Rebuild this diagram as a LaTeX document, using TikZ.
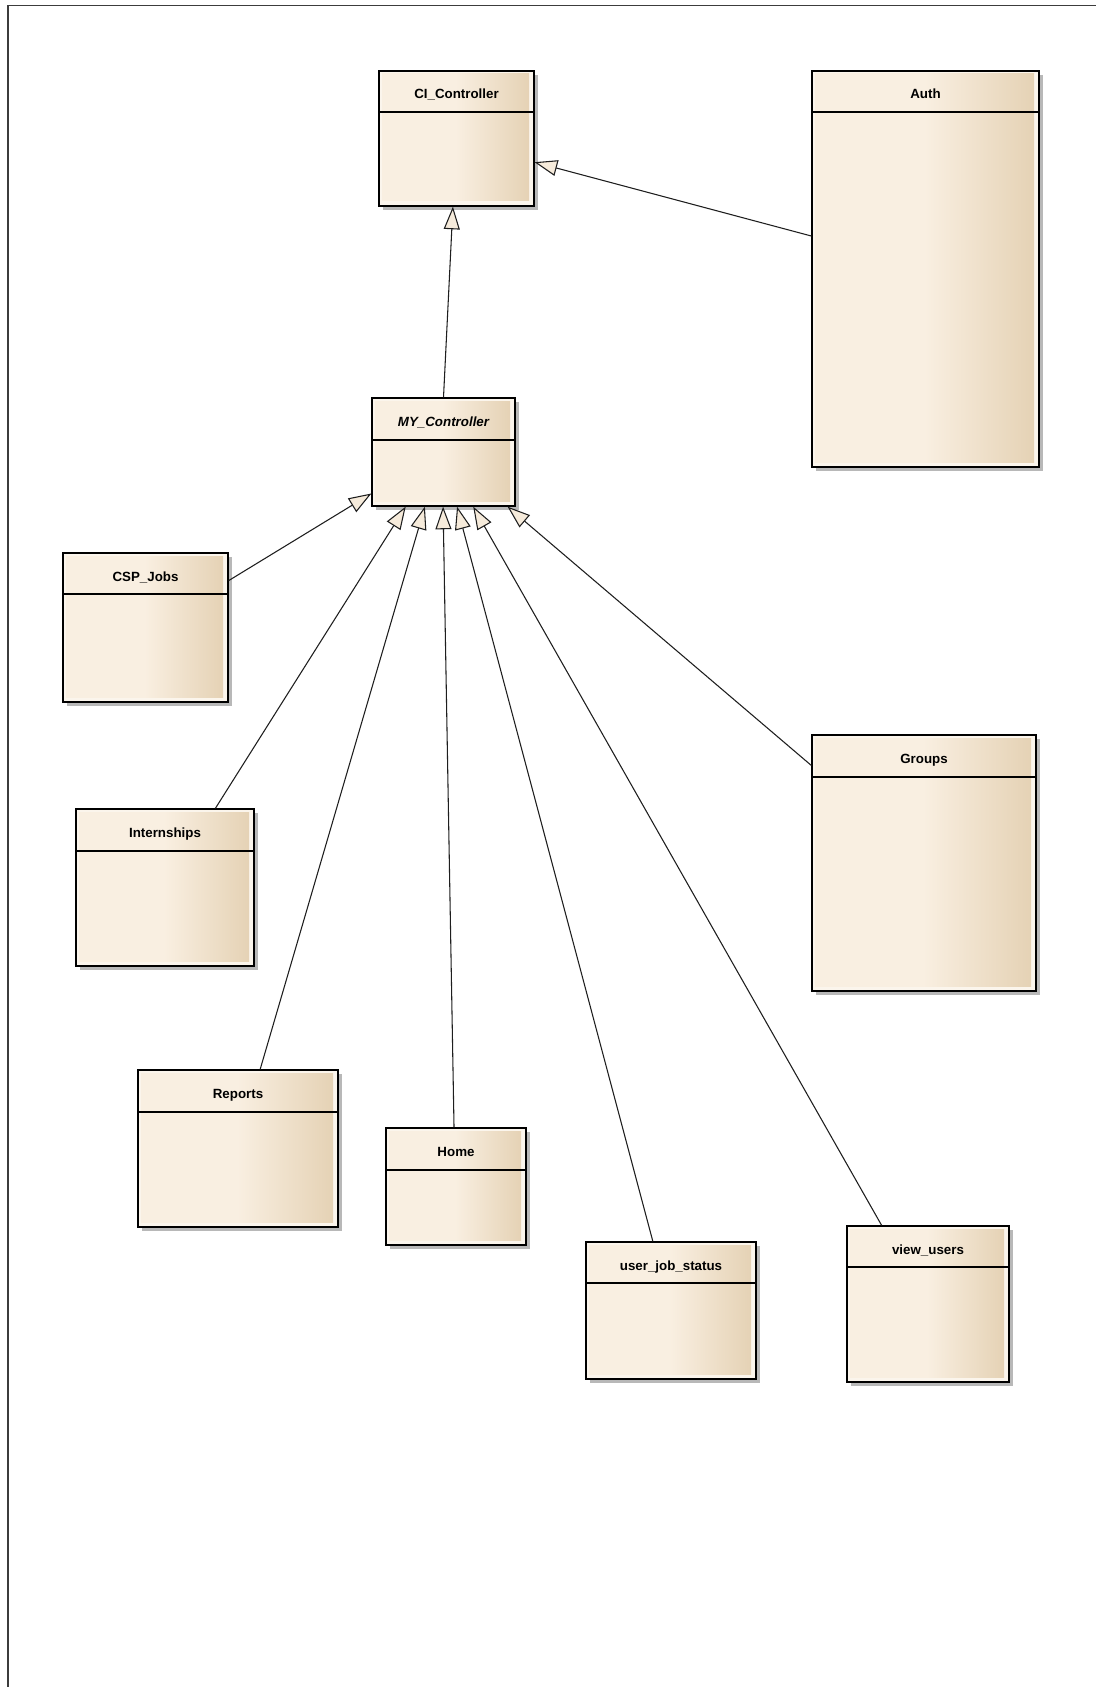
\documentclass[tikz,border=0pt]{standalone}
\usepackage{fontspec}
\setmainfont{Liberation Sans}
\usetikzlibrary{fit,calc,arrows.meta}
\definecolor{umlA}{HTML}{F9EFE1}
\definecolor{umlB}{HTML}{E5D2B5}
\definecolor{umlOuter}{HTML}{FBF5EC}
\definecolor{umlShadow}{HTML}{B8B8B8}
\definecolor{lineC}{HTML}{1E1E1E}
\definecolor{frameC}{HTML}{3C3C3C}
\definecolor{tipFill}{HTML}{F6EBDB}
\pgfdeclarehorizontalshading{umlshade}{100bp}{color(0bp)=(umlA); color(25bp)=(umlA); color(50bp)=(umlA); color(75bp)=(umlB); color(100bp)=(umlB)}
\tikzset{
  boxborder/.style={draw=black, line width=0.9pt, inner sep=0pt},
  titletext/.style={font=\bfseries\fontsize{10pt}{11pt}\selectfont, inner sep=0pt, anchor=base},
  headline/.style={draw=black, line width=0.85pt},
  genarrow/.style={draw=lineC, line width=0.8pt, -{Triangle[length=17pt,width=12pt,fill=tipFill]}},
  shadowfill/.style={fill=umlShadow},
}
% #1 name, #2 x1, #3 y1, #4 x2, #5 y2, #6 header line y, #7 title
\newcommand{\umlclass}[7]{%
  \fill[shadowfill] (#2+4,#3+4) rectangle (#4+4,#5+4);
  \fill[umlOuter] (#2,#3) rectangle (#4,#5);
  \shade[shading=umlshade] (#2+3,#3+3) rectangle (#4-5,#5-5);
  \node[boxborder, fit={(#2,#3) (#4,#5)}] (#1) {};
  \draw[headline] (#2,#6) -- (#4,#6);
  \node[titletext] (#1title) at ({(#2+#4)/2}, #3+28) {#7};
}
\begin{document}
\begin{tikzpicture}[x=0.75pt,y=-0.75pt]
\useasboundingbox (0,0) rectangle (1096,1687);
\fill[white] (0,0) rectangle (1096,1687);
\draw[frameC, line width=1.1pt] (8,1687) -- (8,5.5) -- (1096,5.5);

\umlclass{ci}{379}{71}{534}{206}{112}{CI\_Controller}
\umlclass{auth}{812}{71}{1039}{467}{112}{Auth}
\umlclass{my}{372}{398}{515}{506}{440}{\itshape MY\_Controller}
\umlclass{csp}{63}{553}{228}{702}{594}{CSP\_Jobs}
\umlclass{int}{76}{809}{254}{966}{851}{Internships}
\umlclass{grp}{812}{735}{1036}{991}{777}{Groups}
\umlclass{rep}{138}{1070}{338}{1227}{1112}{Reports}
\umlclass{home}{386}{1128}{526}{1245}{1170}{Home}
\umlclass{ujs}{586}{1242}{756}{1379}{1283}{user\_job\_status}
\umlclass{vu}{847}{1226}{1009}{1382}{1267}{view\_users}

\draw[genarrow] (my.north) -- ($(ci.south west)!0.477!(ci.south east)$);
\draw[genarrow] ($(auth.north west)!0.417!(auth.south west)$) -- ($(ci.north east)!0.674!(ci.south east)$);
\draw[genarrow] ($(csp.north east)!0.188!(csp.south east)$) -- ($(my.north west)!0.88!(my.south west)$);
\draw[genarrow] ($(int.north west)!0.781!(int.north east)$) -- ($(my.south west)!0.238!(my.south east)$);
\draw[genarrow] ($(rep.north west)!0.61!(rep.north east)$) -- ($(my.south west)!0.371!(my.south east)$);
\draw[genarrow] ($(home.north west)!0.486!(home.north east)$) -- ($(my.south west)!0.497!(my.south east)$);
\draw[genarrow] ($(ujs.north west)!0.394!(ujs.north east)$) -- ($(my.south west)!0.594!(my.south east)$);
\draw[genarrow] ($(vu.north west)!0.216!(vu.north east)$) -- ($(my.south west)!0.706!(my.south east)$);
\draw[genarrow] ($(grp.north west)!0.121!(grp.south west)$) -- ($(my.south west)!0.944!(my.south east)$);
\end{tikzpicture}
\end{document}
